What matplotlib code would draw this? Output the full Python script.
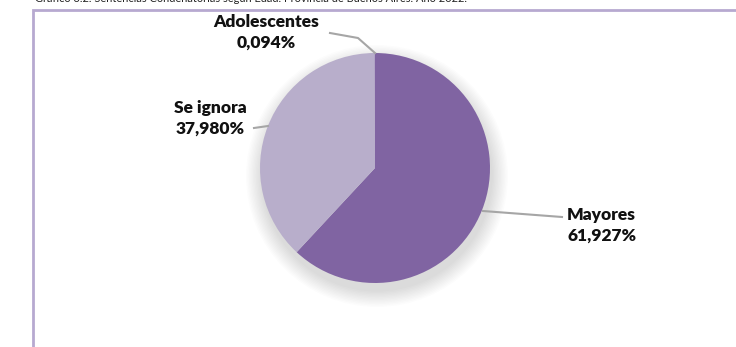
import matplotlib
matplotlib.use('Agg')
import matplotlib.pyplot as plt
from matplotlib.patches import Circle, Rectangle

# Data
labels = ['Mayores', 'Se ignora', 'Adolescentes']
values = [61.927, 37.980, 0.094]
colors = ['#8064A2', '#B8AECB', '#9E8BBC']
pct_text = ['61,927%', '37,980%', '0,094%']

title = 'Gráfico 3.2. Sentencias Condenatorias según Edad. Provincia de Buenos Aires. Año 2022.'

W, H = 736, 347
fig = plt.figure(figsize=(W / 100, H / 100), dpi=100)
ax = fig.add_axes([0, 0, 1, 1])

# frame of the chart area
ax.add_patch(Rectangle((33, -5), 720, H - 10 + 5, fill=False,
                       edgecolor='#B7A9D0', linewidth=2))

# title, cut at the top as in the reference
ax.text(35, H + 1.5, title, fontsize=7.9, family='Lato', va='center', ha='left',
        color='#222222', clip_on=False)

cx, cy, r = 375, H - 168, 115

# soft shadow under the pie
for i in range(12):
    ax.add_patch(Circle((cx + 2, cy - 8), r + 16 - i * 1.4, color='#000000',
                        alpha=0.013, linewidth=0))

wedges, _ = ax.pie(values, colors=colors, startangle=90, counterclock=False,
                   center=(cx, cy), radius=r, frame=True,
                   wedgeprops=dict(linewidth=0))
ax.set_xlim(0, W)
ax.set_ylim(0, H)
ax.set_aspect('equal')
ax.axis('off')

lab_kw = dict(fontsize=12.5, family='Lato', fontweight='heavy', color='#111111',
              linespacing=1.35)
line_kw = dict(color='#A6A6A6', linewidth=1.5)

# Mayores
ax.plot([483, 562], [H - 211, H - 217], **line_kw)
ax.text(567, H - 225, labels[0] + '\n' + pct_text[0], ha='left', va='center', **lab_kw)

# Se ignora
ax.plot([254, 268], [H - 128, H - 126], **line_kw)
ax.text(210, H - 118, labels[1] + '\n' + pct_text[1], ha='center', va='center', **lab_kw)

# Adolescentes
ax.plot([330, 358, 375], [H - 33, H - 38, H - 53], **line_kw)
ax.text(266, H - 32, labels[2] + '\n' + pct_text[2], ha='center', va='center', **lab_kw)

fig.savefig('out.png', dpi=100)
